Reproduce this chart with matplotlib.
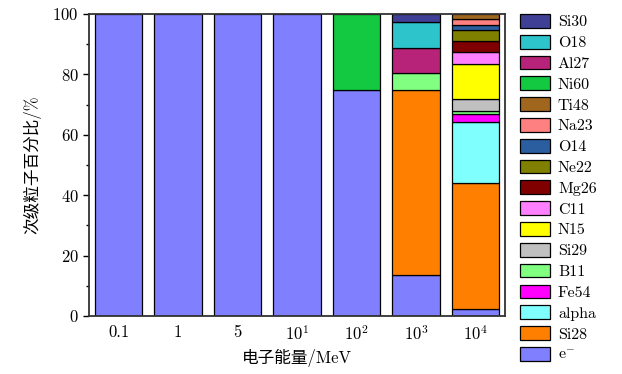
import numpy as np
import matplotlib
matplotlib.use("Agg")
import matplotlib.pyplot as plt

plt.rcParams['font.family'] = ['cmr10', 'Noto Sans CJK SC', 'DejaVu Sans']
plt.rcParams['mathtext.fontset'] = 'cm'
plt.rcParams['axes.formatter.use_mathtext'] = True

energies = ['0.1', '1', '5', r'$10^1$', r'$10^2$', r'$10^3$', r'$10^4$']

# stacking order, bottom to top
species = ['e$^{-}$', 'Si28', 'alpha', 'Fe54', 'B11', 'Si29', 'N15', 'C11', 'Mg26',
           'Ne22', 'O14', 'Na23', 'Ti48', 'Ni60', 'Al27', 'O18', 'Si30']
colors = ['#8080ff', '#ff8000', '#80ffff', '#ff00ff', '#80ff80', '#c0c0c0', '#ffff00',
          '#ff80ff', '#800000', '#808000', '#2b5e9e', '#ff8080', '#a0661e', '#12c941',
          '#b8237a', '#2ec4cb', '#3f3f96']

# percent per energy (0.1, 1, 5, 10, 100, 1000, 10000 MeV)
e_minus = [100, 100, 100, 100, 75.0, 13.7, 2.3]
si28    = [0, 0, 0, 0, 0, 61.3, 41.8]
alpha   = [0, 0, 0, 0, 0, 0, 20.3]
fe54    = [0, 0, 0, 0, 0, 0, 2.5]
b11     = [0, 0, 0, 0, 0, 5.5, 1.1]
si29    = [0, 0, 0, 0, 0, 0, 4.0]
n15     = [0, 0, 0, 0, 0, 0, 11.4]
c11     = [0, 0, 0, 0, 0, 0, 3.9]
mg26    = [0, 0, 0, 0, 0, 0, 3.6]
ne22    = [0, 0, 0, 0, 0, 0, 3.9]
o14     = [0, 0, 0, 0, 0, 0, 1.4]
na23    = [0, 0, 0, 0, 0, 0, 2.2]
ti48    = [0, 0, 0, 0, 0, 0, 1.6]
ni60    = [0, 0, 0, 0, 25.0, 0, 0]
al27    = [0, 0, 0, 0, 0, 8.3, 0]
o18     = [0, 0, 0, 0, 0, 8.5, 0]
si30    = [0, 0, 0, 0, 0, 2.7, 0]

series = [e_minus, si28, alpha, fe54, b11, si29, n15, c11, mg26,
          ne22, o14, na23, ti48, ni60, al27, o18, si30]

fig = plt.figure(figsize=(6.22, 3.74), dpi=100)
ax = fig.add_axes([89 / 622, 1 - 316 / 374, 416 / 622, 302 / 374])

x = np.arange(len(energies))
bottom = np.zeros(len(energies))
handles = []
for name, vals, c in zip(species, series, colors):
    vals = np.array(vals, dtype=float)
    keep = vals > 0  # skip empty segments so no stray edge lines
    ax.bar(x[keep], vals[keep], 0.8, bottom=bottom[keep], color=c,
           edgecolor='black', linewidth=0.9)
    handles.append(plt.Rectangle((0, 0), 1, 1, facecolor=c, edgecolor='black', linewidth=0.9))
    bottom += vals

ax.set_xlim(-0.5, 6.5)
ax.set_ylim(0, 100)
ax.set_xticks(x)
ax.set_xticklabels(energies)
ax.set_yticks([0, 20, 40, 60, 80, 100])
ax.set_yticks([10, 30, 50, 70, 90], minor=True)
ax.tick_params(axis='x', length=0, labelsize=12, pad=6)
ax.tick_params(axis='y', which='major', direction='out', length=4, width=1, labelsize=12)
ax.tick_params(axis='y', which='minor', direction='out', length=2.5, width=1)
for s in ax.spines.values():
    s.set_linewidth(1.3)
    s.set_color('#333333')

ax.set_xlabel('电子能量/MeV', fontsize=12)
ax.set_ylabel('次级粒子百分比/%', fontsize=12, labelpad=8)

ax.legend(handles[::-1], species[::-1], loc='upper left',
          bbox_to_anchor=(1.035, 1.0), frameon=False, fontsize=11.5,
          handlelength=1.9, handleheight=0.95, labelspacing=0.34,
          handletextpad=0.5, borderaxespad=0, borderpad=0)

fig.savefig('out.png', dpi=100)
